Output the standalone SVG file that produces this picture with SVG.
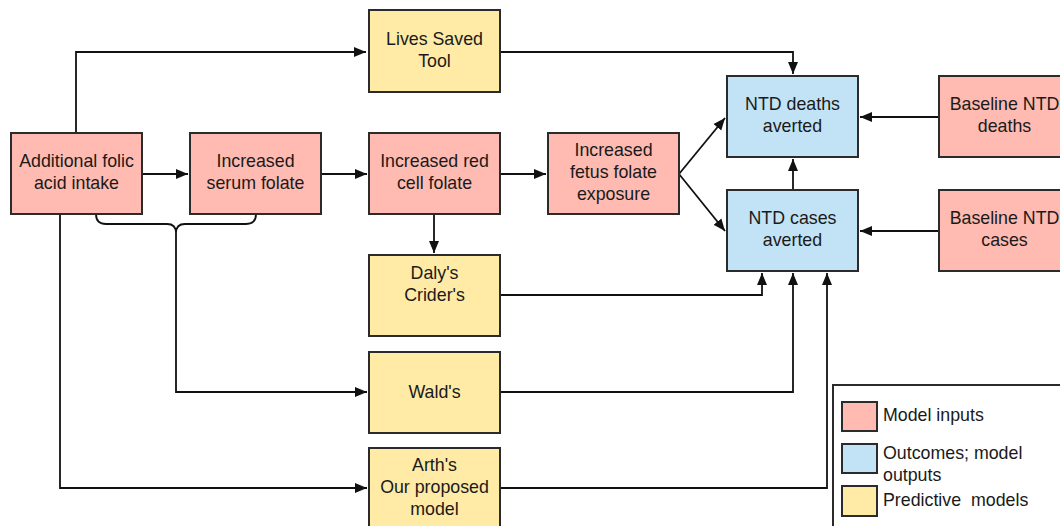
<svg xmlns="http://www.w3.org/2000/svg" width="1060" height="526" viewBox="0 0 1060 526">
<style>
.box{stroke:#2b2b2b;stroke-width:2}
.in{fill:#ffbbb1}
.out{fill:#c2e3f5}
.mod{fill:#ffeaa6}
text{font-family:"Liberation Sans",Arial,sans-serif;font-size:17.8px;fill:#1a1a1a}
.c{text-anchor:middle}
.ln{fill:none;stroke:#111;stroke-width:1.8}
</style>
<defs>
<marker id="ah" markerUnits="userSpaceOnUse" markerWidth="14" markerHeight="12" refX="12" refY="6" orient="auto">
<path d="M0,1 L12,6 L0,11 Z" fill="#111"/>
</marker>
</defs>
<rect width="1060" height="526" fill="#fff"/>
<g id="connectors">
<path class="ln" d="M76,133 V52 H366" marker-end="url(#ah)"/>
<path class="ln" d="M500,52 H793 V74" marker-end="url(#ah)"/>
<path class="ln" d="M142,174 H188" marker-end="url(#ah)"/>
<path class="ln" d="M321,174 H367" marker-end="url(#ah)"/>
<path class="ln" d="M500,174 H546" marker-end="url(#ah)"/>
<path class="ln" d="M679,174 L725,118" marker-end="url(#ah)"/>
<path class="ln" d="M679,174 L725,231" marker-end="url(#ah)"/>
<path class="ln" d="M939,117 H860" marker-end="url(#ah)"/>
<path class="ln" d="M939,231 H860" marker-end="url(#ah)"/>
<path class="ln" d="M793,190 V159" marker-end="url(#ah)"/>
<path class="ln" d="M434,214 V253" marker-end="url(#ah)"/>
<path class="ln" d="M500,295 H762 V273" marker-end="url(#ah)"/>
<path class="ln" d="M500,392 H793 V273" marker-end="url(#ah)"/>
<path class="ln" d="M500,488 H827 V273" marker-end="url(#ah)"/>
<path class="ln" d="M60,214 V488 H367" marker-end="url(#ah)"/>
<path class="ln" d="M96,214 Q96,224 106,224 L167,224 Q176,224 176,233 Q176,224 185,224 L246,224 Q256,224 256,214"/>
<path class="ln" d="M176,233 V392 H367" marker-end="url(#ah)"/>
</g>
<g id="n_additional"><rect class="box in" x="11" y="133" width="131" height="81"/><text class="c" x="76.5" y="167">Additional folic</text><text class="c" x="76.5" y="189">acid intake</text></g>
<g id="n_serum"><rect class="box in" x="190" y="133" width="131" height="81"/><text class="c" x="255.5" y="167">Increased</text><text class="c" x="255.5" y="189">serum folate</text></g>
<g id="n_redcell"><rect class="box in" x="369" y="133" width="131" height="81"/><text class="c" x="434.5" y="167">Increased red</text><text class="c" x="434.5" y="189">cell folate</text></g>
<g id="n_fetus"><rect class="box in" x="548" y="133" width="131" height="81"/><text class="c" x="613.5" y="156">Increased</text><text class="c" x="613.5" y="178">fetus folate</text><text class="c" x="613.5" y="200">exposure</text></g>
<g id="n_lives"><rect class="box mod" x="369" y="10" width="131" height="82"/><text class="c" x="434.5" y="45">Lives Saved</text><text class="c" x="434.5" y="67">Tool</text></g>
<g id="n_daly"><rect class="box mod" x="369" y="255" width="131" height="81"/><text class="c" x="434.5" y="279">Daly's</text><text class="c" x="434.5" y="301">Crider's</text></g>
<g id="n_wald"><rect class="box mod" x="369" y="352" width="131" height="81"/><text class="c" x="434.5" y="398">Wald's</text></g>
<g id="n_arth"><rect class="box mod" x="369" y="448" width="131" height="82"/><text class="c" x="434.5" y="471">Arth's</text><text class="c" x="434.5" y="493">Our proposed</text><text class="c" x="434.5" y="515">model</text></g>
<g id="n_deaths"><rect class="box out" x="727" y="76" width="131" height="81"/><text class="c" x="792.5" y="110">NTD deaths</text><text class="c" x="792.5" y="132">averted</text></g>
<g id="n_cases"><rect class="box out" x="727" y="190" width="131" height="81"/><text class="c" x="792.5" y="224">NTD cases</text><text class="c" x="792.5" y="246">averted</text></g>
<g id="n_bdeaths"><rect class="box in" x="939" y="76" width="131" height="81"/><text class="c" x="1004.5" y="110">Baseline NTD</text><text class="c" x="1004.5" y="132">deaths</text></g>
<g id="n_bcases"><rect class="box in" x="939" y="190" width="131" height="81"/><text class="c" x="1004.5" y="224">Baseline NTD</text><text class="c" x="1004.5" y="246">cases</text></g>
<g id="legend">
<rect x="833" y="385" width="240" height="160" fill="#fff" stroke="#2b2b2b" stroke-width="2"/>
<rect class="box in" x="842" y="402" width="35" height="29"/>
<rect class="box out" x="842" y="444" width="35" height="29"/>
<rect class="box mod" x="842" y="486" width="35" height="30"/>
<text x="883" y="421">Model inputs</text>
<text x="883" y="459">Outcomes; model</text>
<text x="883" y="481">outputs</text>
<text x="883" y="506" xml:space="preserve">Predictive  models</text>
</g>
</svg>
